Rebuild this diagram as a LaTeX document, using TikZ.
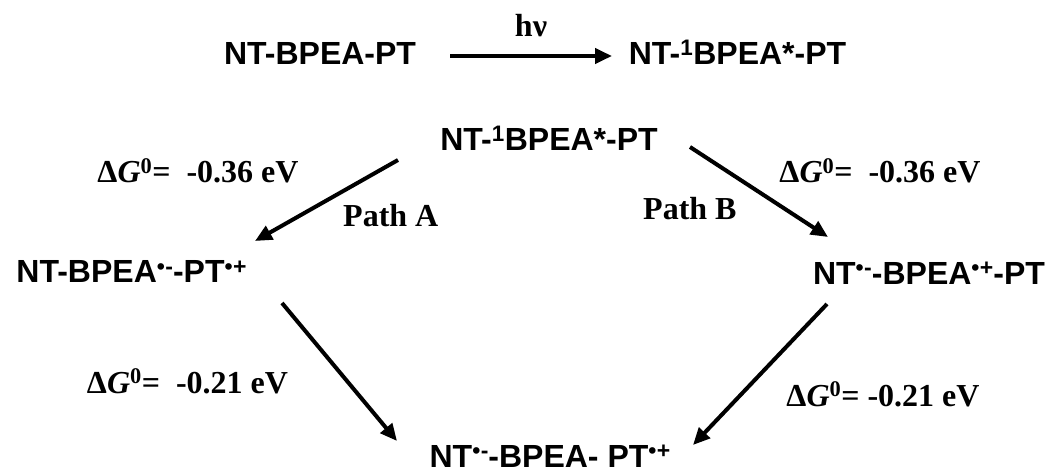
\documentclass[tikz,border=0pt]{standalone}
\usepackage{fontspec}
\setmainfont{Liberation Serif}
\setsansfont{Liberation Sans}
\usetikzlibrary{arrows.meta}
\tikzset{
  species/.style={inner sep=0pt, anchor=base, font=\sffamily\bfseries\fontsize{32}{38}\selectfont},
  serlabel/.style={inner sep=0pt, anchor=base, font=\bfseries\fontsize{32}{38}\selectfont},
  rxn/.style={line width=4pt, -{Triangle[length=17pt,width=15pt]}}
}
\newcommand{\rad}[1]{\raisebox{0.27em}{\fontsize{23}{23}\selectfont\textbullet\kern0.02em#1}}
\begin{document}
\begin{tikzpicture}[x=1pt,y=-1pt]
\useasboundingbox (0,0) rectangle (1055,473);
% species
\node[species] (s0) at (320,65) {NT-BPEA-PT};
\node[species] (s1) at (737.5,65) {NT-\textsuperscript{1}BPEA*-PT};
\node[species] (s2) at (549,151) {NT-\textsuperscript{1}BPEA*-PT};
\node[species] (s3) at (131.5,283) {NT-BPEA\rad{-}-PT\rad{+}};
\node[species] (s4) at (929,284) {NT\rad{-}-BPEA\rad{+}-PT};
\node[species] (s5) at (550,467) {NT\rad{-}-BPEA- PT\rad{+}};
% labels
\node[serlabel] (hv) at (531,37) {hν};
\node[serlabel] (g1) at (198,183) {Δ\textit{G}\textsuperscript{0}=~~-0.36 eV};
\node[serlabel] (g2) at (880,183) {Δ\textit{G}\textsuperscript{0}=~~-0.36 eV};
\node[serlabel] (g3) at (187.5,393) {Δ\textit{G}\textsuperscript{0}=~~-0.21 eV};
\node[serlabel] (g4) at (883,406) {Δ\textit{G}\textsuperscript{0}= -0.21 eV};
\node[serlabel, anchor=base west] (pa) at (343,227) {Path A};
\node[serlabel, anchor=base west] (pb) at (643,220) {Path B};
% arrow end points
\coordinate (a0s) at (450,56);  \coordinate (a0e) at (612,56);
\coordinate (a1s) at (398,160); \coordinate (a1e) at (255,241);
\coordinate (a2s) at (690,147); \coordinate (a2e) at (828,237);
\coordinate (a3s) at (282,303); \coordinate (a3e) at (397,441);
\coordinate (a4s) at (827,304); \coordinate (a4e) at (693,445);
\draw[rxn] (a0s) -- (a0e);
\draw[rxn] (a1s) -- (a1e);
\draw[rxn] (a2s) -- (a2e);
\draw[rxn] (a3s) -- (a3e);
\draw[rxn] (a4s) -- (a4e);
\end{tikzpicture}
\end{document}
